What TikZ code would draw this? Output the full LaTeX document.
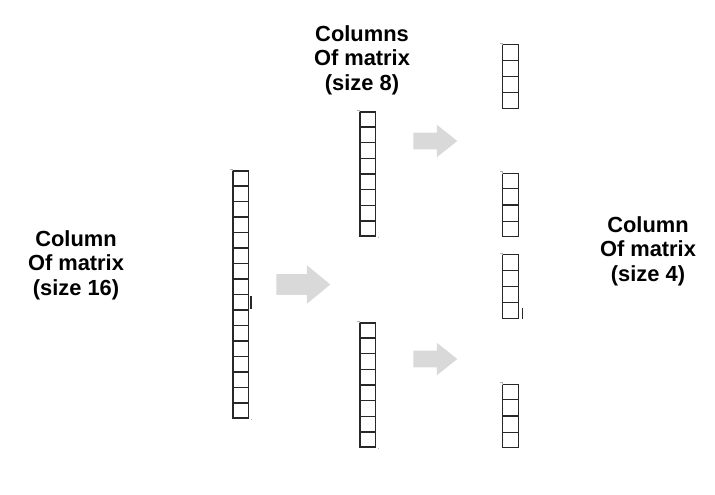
\documentclass[tikz,border=0pt]{standalone}
\usepackage{fontspec}
\setmainfont{Liberation Sans}
\usepackage{tikz}
\usetikzlibrary{shapes.arrows, calc}
\definecolor{arrowgray}{RGB}{217, 217, 217}
\definecolor{cellline}{RGB}{40, 40, 40}
\tikzset{
  label/.style={align=center, inner sep=0pt, font=\fontsize{16.4}{18.4}\selectfont\bfseries},
  colbox/.style={draw=cellline, line width=0.9pt, minimum width=11.6pt, inner sep=0pt},
  bigarrow/.style={single arrow, fill=arrowgray, draw=none, inner sep=7.5pt, minimum height=40.5pt,
    single arrow head extend=6.75pt, single arrow tip angle=79, anchor=tail},
  smallarrow/.style={single arrow, fill=arrowgray, draw=none, inner sep=6pt, minimum height=33pt,
    single arrow head extend=6pt, single arrow tip angle=77, anchor=tail}
}

\begin{document}
\begin{tikzpicture}[x=0.75pt, y=-0.75pt]
  \useasboundingbox (0,0) rectangle (715,494);

  % Labels
  \node[label] (t16) at (76, 265) {Column\\Of matrix\\(size 16)};
  \node[label] (t8) at (362, 60) {Columns\\Of matrix\\(size 8)};
  \node[label] (t4) at (648, 251) {Column\\Of matrix\\(size 4)};

  % Columns
  \node[colbox, minimum height=185.25pt] (c16) at (240.75, 294.5) {};
  \node[colbox, minimum height=93pt] (c8a) at (367.75, 174) {};
  \node[colbox, minimum height=93pt] (c8b) at (367.75, 385) {};
  \node[colbox, minimum height=47.5pt] (c4a) at (510.5, 76.5) {};
  \node[colbox, minimum height=47.5pt] (c4b) at (510.5, 205) {};
  \node[colbox, minimum height=47.5pt] (c4c) at (510.5, 286.5) {};
  \node[colbox, minimum height=47.5pt] (c4d) at (510.5, 416) {};

  % Cells
  \foreach \i in {1,...,15}
    \draw[cellline, line width=0.9pt] ($(c16.north west)!\i/16!(c16.south west)$) -- ($(c16.north east)!\i/16!(c16.south east)$);
  \foreach \c in {c8a, c8b}
    \foreach \i in {1,...,7}
      \draw[cellline, line width=0.9pt] ($(\c.north west)!\i/8!(\c.south west)$) -- ($(\c.north east)!\i/8!(\c.south east)$);
  \foreach \c in {c4a, c4b, c4c, c4d}
    \foreach \i in {1,...,3}
      \draw[cellline, line width=0.9pt] ($(\c.north west)!\i/4!(\c.south west)$) -- ($(\c.north east)!\i/4!(\c.south east)$);

  % Small marks
  \draw[cellline, line width=0.9pt] ($(c16.east)+(2,1.5)$) -- ++(0,13);
  \draw[cellline, line width=0.9pt] ($(c4c.east)+(4,21.5)$) -- ++(0,11);
  \foreach \c in {c16, c8a, c8b, c4a, c4b, c4c, c4d}
    \draw[gray!60, line width=0.5pt] ($(\c.north west)+(-2,-1)$) -- ++(2,0) -- ++(0,2);
  \foreach \c in {c16, c8a, c8b}
    \draw[gray!60, line width=0.5pt] ($(\c.south east)+(2,0)$) -- ++(0,0.8);

  % Arrows
  \node[bigarrow] (a1) at (276, 284.5) {};
  \node[smallarrow] (a2) at (413, 141) {};
  \node[smallarrow] (a3) at (413, 359) {};
\end{tikzpicture}
\end{document}
